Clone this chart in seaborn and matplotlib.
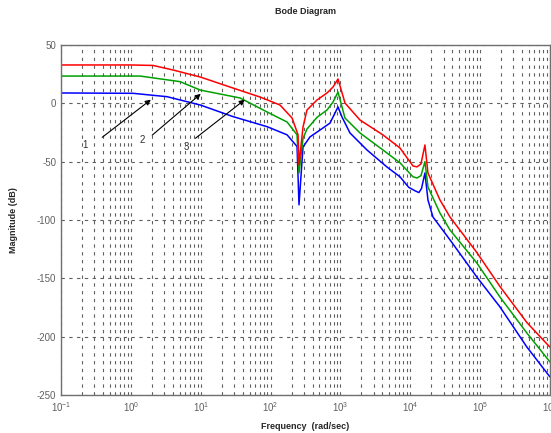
import numpy as np
import pandas as pd
import matplotlib
matplotlib.use('Agg')
import matplotlib.pyplot as plt
import seaborn as sns
from matplotlib.ticker import LogLocator, FixedLocator, FixedFormatter

# Frecuencias (rad/s) y magnitudes (dB) leidas de la figura
# curva 1 (azul)
freq_1 = [0.1, 1.07, 3.29, 9.8, 29, 89, 172, 239, 255, 291, 366, 509, 709, 923,
          1052, 1370, 2400, 4640, 7130, 9500, 11700, 13300, 14500, 16230, 17920, 21130,
          37000, 90100, 192300, 468700, 1000000]
mag_1 = [8.9, 8.6, 5.7, -1.4, -11.4, -20.0, -27.0, -37.0, -87.0, -37.4, -28.8, -22.9, -16.9, -3.1,
         -11.7, -25.4, -40.0, -54.6, -63.0, -72.0, -75.0, -76.5, -73.0, -59.7, -82.8, -97.4,
         -117.0, -149.0, -174.5, -209.0, -234.5]

# curva 2 (verde)
freq_2 = [0.1, 1.35, 5.05, 9.8, 36.5, 89, 172, 239, 255, 291, 332, 462, 643, 783, 923,
          1162, 1905, 4066, 7130, 10940, 12480, 14230, 16230, 17920, 26600,
          37000, 90100, 192300, 468700, 1000000]
mag_2 = [23.4, 23.4, 18.6, 11.4, 4.6, -7.4, -16.0, -27.0, -59.7, -30.0, -22.0, -12.0, -5.7, 1.1, 9.7,
         -12.6, -25.4, -40.0, -51.0, -63.0, -64.0, -62.0, -50.0, -71.7, -94.0,
         -108.5, -137.0, -166.0, -197.0, -221.7]

# curva 3 (roja)
freq_3 = [0.1, 1.0, 2.07, 4.0, 9.8, 29, 70.6, 136, 203, 247, 255, 291, 332, 462, 643, 783, 923,
          1162, 1905, 4066, 7130, 10940, 12480, 14230, 16230, 17920, 26600,
          37000, 90100, 192300, 468700, 1000000]
mag_3 = [32.9, 32.9, 32.5, 28.6, 22.6, 13.1, 5.4, -1.4, -12.6, -27.0, -52.8, -20.3, -5.7, 2.9, 8.9, 14.0, 20.9,
         0.3, -14.3, -27.1, -38.3, -53.7, -54.5, -52.0, -35.7, -59.7, -82.8,
         -97.4, -128.0, -157.0, -188.0, -209.0]

curve_names = ['1', '2', '3']
curve_colors = ['#0000ff', '#00a000', '#ff0000']

# Flechas: texto, cola y punta (frecuencia, dB)
arrow_labels = ['1', '2', '3']
arrow_text = [(0.22, -36.0), (1.45, -31.5), (6.3, -37.5)]
arrow_tail = [(0.36, -30.6), (1.88, -28.8), (7.8, -31.4)]
arrow_head = [(2.07, 4.6), (10.7, 9.7), (45.9, 4.6)]

# Etiquetas de los ejes
xtick_vals = [1e-1, 1e0, 1e1, 1e2, 1e3, 1e4, 1e5, 1e6]
xtick_labels = ['$10^{-1}$', '$10^{0}$', '$10^{1}$', '$10^{2}$', '$10^{3}$', '$10^{4}$', '$10^{5}$', '$10^{6}$']
ytick_vals = [50, 0, -50, -100, -150, -200, -250]

frames = []
for name, f, m in zip(curve_names, [freq_1, freq_2, freq_3], [mag_1, mag_2, mag_3]):
    frames.append(pd.DataFrame({'freq': f, 'mag': m, 'curve': name}))
df = pd.concat(frames, ignore_index=True)

sns.set_style('white')
plt.rcParams['font.family'] = ['Liberation Sans', 'DejaVu Sans']
plt.rcParams['mathtext.fontset'] = 'custom'
plt.rcParams['mathtext.rm'] = 'Liberation Sans'
plt.rcParams['mathtext.it'] = 'Liberation Sans'
plt.rcParams['axes.unicode_minus'] = False

fig = plt.figure(figsize=(5.51, 4.33), dpi=100)
ax = fig.add_axes([0.111, 0.088, 0.887, 0.808])

sns.lineplot(data=df, x='freq', y='mag', hue='curve', palette=curve_colors,
             sort=False, estimator=None, legend=False, linewidth=1.1, ax=ax)

ax.set_xscale('log')
ax.set_xlim(1e-1, 1e6)
ax.set_ylim(-250, 50)

ax.xaxis.set_major_locator(FixedLocator(xtick_vals))
ax.xaxis.set_major_formatter(FixedFormatter(xtick_labels))
ax.xaxis.set_minor_locator(LogLocator(base=10, subs=np.arange(2, 10)))
ax.set_yticks(ytick_vals)

grid_kw = dict(color='#606060', linestyle=(0, (3, 4)), linewidth=0.8)
ax.grid(True, which='major', axis='both', **grid_kw)
ax.grid(True, which='minor', axis='x', **grid_kw)

for s in ax.spines.values():
    s.set_color('#707070')
    s.set_linewidth(1.0)

ax.tick_params(axis='both', which='both', direction='in', colors='#707070',
               labelcolor='#606060', labelsize=7, length=3)
ax.tick_params(axis='x', which='minor', length=2)

for lab, t, tail, head in zip(arrow_labels, arrow_text, arrow_tail, arrow_head):
    ax.annotate('', xy=head, xytext=tail,
                arrowprops=dict(arrowstyle='-|>', color='black', lw=0.8, mutation_scale=8))
    ax.text(t[0], t[1], lab, fontsize=7, color='#303030', ha='center', va='center')

ax.set_title('Bode Diagram', fontsize=6.5, fontweight='bold', pad=22)
ax.set_xlabel('Frequency  (rad/sec)', fontsize=6.5, fontweight='bold', labelpad=6)
ax.set_ylabel('Magnitude (dB)', fontsize=6.5, fontweight='bold')
ax.yaxis.set_label_coords(-0.088, 0.5)

fig.savefig('out.png', dpi=100)
